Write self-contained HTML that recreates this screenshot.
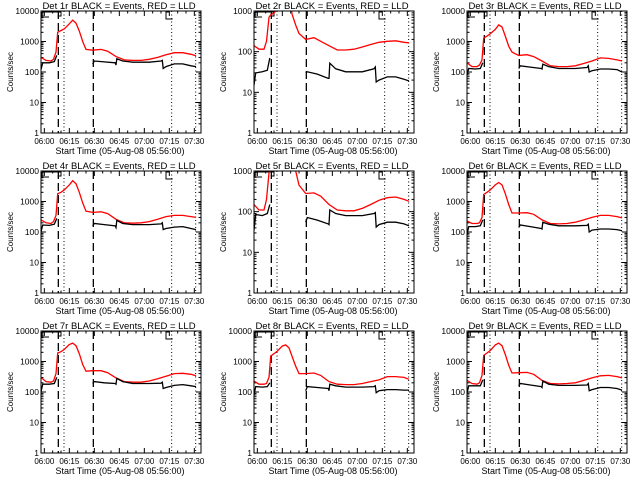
<!DOCTYPE html>
<html><head><meta charset="utf-8"><style>
html,body{margin:0;padding:0;background:#fff}
svg{display:block}
text{font-family:"Liberation Sans",sans-serif;fill:#000}
</style></head><body>
<svg id="chart" width="640" height="480" viewBox="0 0 640 480" xmlns="http://www.w3.org/2000/svg"></svg>
<script>
const redT = [0,3,6,7.5,9,10,12,14,17,19,21,23,25,27,31,36,40,45,50,55,60,65,70,75,80,85,90,93];
const blkT = [0,1,5,8,9.5,10,31,32,38,44.5,45,45.5,49,55,65,72,72.8,73.3,75,80,85,90,93];
const titles = ["Det 1r","Det 2r","Det 3r","Det 4r","Det 5r","Det 6r","Det 7r","Det 8r","Det 9r"];
const decades = [4,3,4,4,3,4,4,4,4];
const red1 = [300,240,230,260,450,2000,2300,2600,3800,5000,4000,2200,1000,550,520,550,480,320,250,240,240,260,300,370,430,430,380,340];
const red2 = [140,115,115,180,700,800,900,1100,1500,2000,2000,800,450,280,200,220,180,140,110,110,115,130,150,170,180,185,170,165];
const red3 = [200,150,150,170,250,1300,1500,1800,2500,3500,3000,1500,700,450,350,370,320,230,160,150,150,160,190,230,290,280,250,230];
const red4 = [250,200,190,220,350,1800,2000,2400,3500,4800,3800,2000,900,480,440,460,400,260,200,195,200,220,260,320,350,350,320,300];
const red5 = [150,110,110,200,900,1050,1500,2000,2500,2500,2000,1500,1000,450,280,290,240,150,110,105,105,120,150,190,220,230,200,180];
const red6 = [230,190,190,200,300,1700,2000,2400,3500,4200,3500,1800,800,420,420,430,380,250,190,185,190,210,250,300,350,350,320,290];
const red7 = [300,220,210,230,400,1900,2100,2500,3600,4000,3300,1800,800,480,500,500,430,290,220,210,210,230,270,330,400,410,380,340];
const red8 = [230,180,180,190,300,1500,1800,2200,3200,3500,2800,1400,700,400,400,420,350,220,180,175,175,190,220,250,320,320,300,260];
const red9 = [240,190,180,200,350,1600,1900,2300,3500,4000,3300,1700,750,420,430,440,380,240,190,185,190,200,240,290,340,350,320,290];
const blk1 = [120,200,200,220,350,null,180,230,215,200,170,270,230,210,210,230,240,130,150,185,185,160,150];
const blk2 = [15,30,32,35,70,null,30,32,28,22,22,52,38,32,32,38,42,18,20,24,24,21,19];
const blk3 = [80,130,125,130,200,null,130,160,145,130,125,180,150,130,130,140,160,100,110,125,125,120,100];
const blk4 = [100,170,165,180,280,null,160,190,175,160,140,240,190,175,175,185,200,120,130,145,150,130,120];
const blk5 = [35,85,80,90,150,null,55,72,62,50,48,110,90,80,80,90,95,42,48,55,55,50,45];
const blk6 = [80,150,150,160,250,null,140,170,150,130,125,210,180,160,160,165,180,100,115,125,125,120,110];
const blk7 = [100,180,180,190,300,null,190,220,200,190,180,280,220,190,190,195,210,130,140,165,175,160,150];
const blk8 = [80,150,145,150,200,null,110,150,140,130,110,180,160,145,145,150,160,95,110,120,120,115,115];
const blk9 = [90,160,160,160,250,null,160,190,170,150,140,230,180,165,165,170,190,110,120,140,140,130,115];
const reds = [red1,red2,red3,red4,red5,red6,red7,red8,red9];
const blks = [blk1,blk2,blk3,blk4,blk5,blk6,blk7,blk8,blk9];
const xTickT = [2,17,32,47,62,77,92];
const xTickLabels = ["06:00","06:15","06:30","06:45","07:00","07:15","07:30"];
const dashedT = [10.4,31.4];
const dottedT = [13.8,78.4,92.8];

const NS="http://www.w3.org/2000/svg";
const svg=document.getElementById('chart');
function mk(tag,attrs,parent){const e=document.createElementNS(NS,tag);for(const k in attrs)e.setAttribute(k,attrs[k]);(parent||svg).appendChild(e);return e;}

for(let i=0;i<9;i++){
  const col=i%3,row=Math.floor(i/3);
  const px=col*213,py=row*160;
  const x0=px+41,x1=px+201,y0=py+11,y1=py+133;
  const dec=decades[i];
  const xs=t=>x0+t*(x1-x0)/96;
  const ys=v=>y1-Math.log10(v)*(y1-y0)/dec;
  const g=mk('g',{});
  
  
  const cp=mk('clipPath',{id:'cp'+i},g);
  mk('rect',{x:x0,y:y0,width:x1-x0,height:y1-y0},cp);
  const tt=mk('text',{x:px+119,y:py+9,'font-size':'9.5','text-anchor':'middle'},g);
  tt.textContent=titles[i]+" BLACK = Events, RED = LLD";
  
  
  for(let d=0;d<=dec;d++){
    const y=ys(Math.pow(10,d));
    mk('line',{x1:x0,x2:x0+5,y1:y,y2:y,stroke:'#000','stroke-width':1},g);
    mk('line',{x1:x1-5,x2:x1,y1:y,y2:y,stroke:'#000','stroke-width':1},g);
    const lb=mk('text',{x:x0-2,y:y+3,'font-size':'8.5','text-anchor':'end'},g);
    lb.textContent=String(Math.pow(10,d));
    
    
    if(d<dec){for(let m=2;m<10;m++){const ym=ys(m*Math.pow(10,d));
      mk('line',{x1:x0,x2:x0+2.5,y1:ym,y2:ym,stroke:'#000','stroke-width':1},g);
      mk('line',{x1:x1-2.5,x2:x1,y1:ym,y2:ym,stroke:'#000','stroke-width':1},g);}}
  }
  for(let t=2;t<96;t+=5){
    const x=xs(t);const major=xTickT.indexOf(t)>=0;const L=major?5:2.5;
    mk('line',{x1:x,x2:x,y1:y1,y2:y1-L,stroke:'#000','stroke-width':1},g);
    mk('line',{x1:x,x2:x,y1:y0,y2:y0+L,stroke:'#000','stroke-width':1},g);
  }
  xTickT.forEach((t,k)=>{
    const lb=mk('text',{x:xs(t),y:py+144,'font-size':'8','text-anchor':'middle'},g);
    lb.textContent=xTickLabels[k];
    
    
  });
  const xl=mk('text',{x:px+120,y:py+154,'font-size':'9','text-anchor':'middle'},g);
  xl.textContent="Start Time (05-Aug-08 05:56:00)";
  
  
  const yl=mk('text',{x:0,y:0,'font-size':'8','text-anchor':'middle',transform:`translate(${px+13},${(y0+y1)/2}) rotate(-90)`},g);
  yl.textContent="Counts/sec";
  
  
  dashedT.forEach(t=>{const l=mk('line',{x1:xs(t),x2:xs(t),y1:y0,y2:y1,stroke:'#000','stroke-width':1.3,'stroke-dasharray':'8,4'},g);
    });
  dottedT.forEach(t=>{const l=mk('line',{x1:xs(t),x2:xs(t),y1:y0,y2:y1,stroke:'#000','stroke-width':1,'stroke-dasharray':'1,2.5'},g);
    });
  const bk=mk('path',{d:`M${x0+1} ${y0+1} V${y0+6} H${x0+8} M${x0+1} ${y0+1} H${xs(10)} M${xs(8.5)} ${y0+1} H${xs(12)} V${y0+5} H${xs(10)} M${xs(75)} ${y0} V${y0+8} H${xs(79)} M${xs(75)} ${y0+1} H${xs(77)}`,fill:'none',stroke:'#000','stroke-width':1},g);
  
  const gs=mk('g',{'clip-path':`url(#cp${i})`},g);
  let d='';reds[i].forEach((v,k)=>{d+=(k?'L':'M')+xs(redT[k]).toFixed(1)+' '+ys(v).toFixed(1)+' ';});
  const rp=mk('path',{d:d,fill:'none',stroke:'#ff0000','stroke-width':1.3},gs);
  
  d='';let pen=false;blks[i].forEach((v,k)=>{if(v===null){pen=false;return;}d+=(pen?'L':'M')+xs(blkT[k]).toFixed(1)+' '+ys(v).toFixed(1)+' ';pen=true;});
  const bp=mk('path',{d:d,fill:'none',stroke:'#000','stroke-width':1.3},gs);
  
  const fr=mk('rect',{x:x0,y:y0,width:x1-x0,height:y1-y0,fill:'none',stroke:'#000','stroke-width':1},g);
  
}
</script>
</body></html>
